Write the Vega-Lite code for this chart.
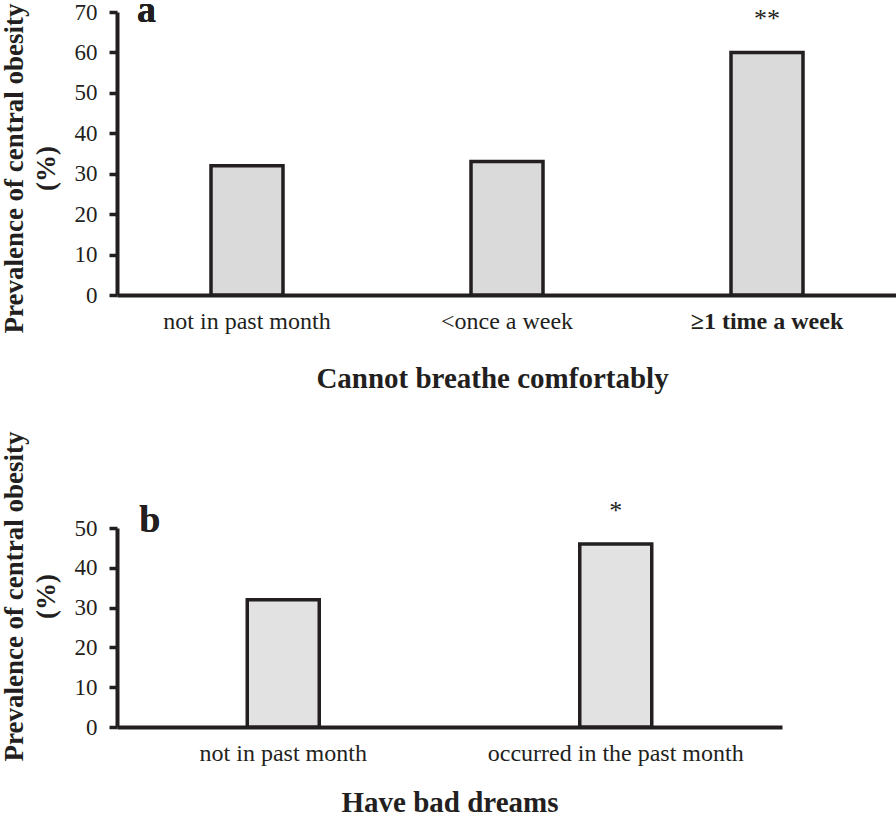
{
  "$schema": "https://vega.github.io/schema/vega-lite/v6.json",
  "background": "white",
  "padding": {"left": -1, "top": -8, "right": 0, "bottom": 0},
  "bounds": "flush",
  "spacing": 233,
  "config": {
    "font": "Liberation Serif",
    "view": {"stroke": null},
    "axis": {
      "domainColor": "#231f20",
      "domainWidth": 4,
      "tickColor": "#231f20",
      "tickWidth": 3.5,
      "tickSize": 8,
      "grid": false,
      "labelFont": "Liberation Serif",
      "labelFontSize": 23,
      "labelLimit": 0,
      "labelColor": "#231f20",
      "titleFont": "Liberation Serif",
      "titleFontWeight": "bold",
      "titleColor": "#231f20"
    }
  },
  "vconcat": [
    {
      "width": 780,
      "height": 283,
      "data": {"values": [
        {"category": "not in past month", "prevalence": 32, "sig": ""},
        {"category": "<once a week", "prevalence": 33, "sig": ""},
        {"category": "≥1 time a week", "prevalence": 60, "sig": "**"}
      ]},
      "encoding": {
        "x": {
          "field": "category", "type": "nominal", "sort": null,
          "scale": {"paddingInner": 0, "paddingOuter": 0},
          "axis": {
            "title": "Cannot breathe comfortably",
            "labelAngle": 0, "ticks": false, "labelPadding": 14,
            "titleFontSize": 29, "titlePadding": 31, "titleX": 375,
            "labelFontSize": 24,
            "labelFontWeight": {"condition": {"test": "datum.label == '≥1 time a week'", "value": "bold"}, "value": "normal"}
          }
        },
        "y": {
          "field": "prevalence", "type": "quantitative",
          "scale": {"domain": [0, 70], "nice": false},
          "axis": {
            "values": [0, 10, 20, 30, 40, 50, 60, 70],
            "title": ["Prevalence of central obesity", "(%)"],
            "titleFontSize": 27, "titleLineHeight": 32,
            "labelPadding": 12, "titlePadding": 14, "titleY": 156
          }
        }
      },
      "layer": [
        {"mark": {"type": "bar", "width": 72, "fill": "#dadada", "stroke": "#231f20", "strokeWidth": 3.5}},
        {
          "transform": [{"filter": "datum.sig != ''"}],
          "mark": {"type": "text", "dy": -25, "baseline": "alphabetic", "fontSize": 26, "font": "Liberation Serif", "color": "#231f20"},
          "encoding": {"text": {"field": "sig"}}
        },
        {
          "mark": {"type": "text", "text": "a", "align": "left", "baseline": "alphabetic", "dx": -110, "dy": 10, "fontSize": 38, "fontWeight": "bold", "font": "Liberation Serif", "color": "#231f20"},
          "encoding": {"x": {"datum": "not in past month"}, "y": {"datum": 70}}
        }
      ]
    },
    {
      "width": 665,
      "height": 199,
      "data": {"values": [
        {"category": "not in past month", "prevalence": 32, "sig": ""},
        {"category": "occurred in the past month", "prevalence": 46, "sig": "*"}
      ]},
      "encoding": {
        "x": {
          "field": "category", "type": "nominal", "sort": null,
          "scale": {"paddingInner": 0, "paddingOuter": 0},
          "axis": {
            "title": "Have bad dreams",
            "labelAngle": 0, "ticks": false, "labelPadding": 14,
            "labelFontSize": 24,
            "titleFontSize": 29, "titlePadding": 23
          }
        },
        "y": {
          "field": "prevalence", "type": "quantitative",
          "scale": {"domain": [0, 50], "nice": false},
          "axis": {
            "values": [0, 10, 20, 30, 40, 50],
            "title": ["Prevalence of central obesity", "(%)"],
            "titleFontSize": 27, "titleLineHeight": 32,
            "labelPadding": 12, "titlePadding": 14, "titleY": 68
          }
        }
      },
      "layer": [
        {"mark": {"type": "bar", "width": 72, "fill": "#e2e2e2", "stroke": "#231f20", "strokeWidth": 3.5}},
        {
          "transform": [{"filter": "datum.sig != ''"}],
          "mark": {"type": "text", "dy": -25, "baseline": "alphabetic", "fontSize": 26, "font": "Liberation Serif", "color": "#231f20"},
          "encoding": {"text": {"field": "sig"}}
        },
        {
          "mark": {"type": "text", "text": "b", "align": "left", "baseline": "alphabetic", "dx": -144, "dy": 4, "fontSize": 38, "fontWeight": "bold", "font": "Liberation Serif", "color": "#231f20"},
          "encoding": {"x": {"datum": "not in past month"}, "y": {"datum": 50}}
        }
      ]
    }
  ]
}
